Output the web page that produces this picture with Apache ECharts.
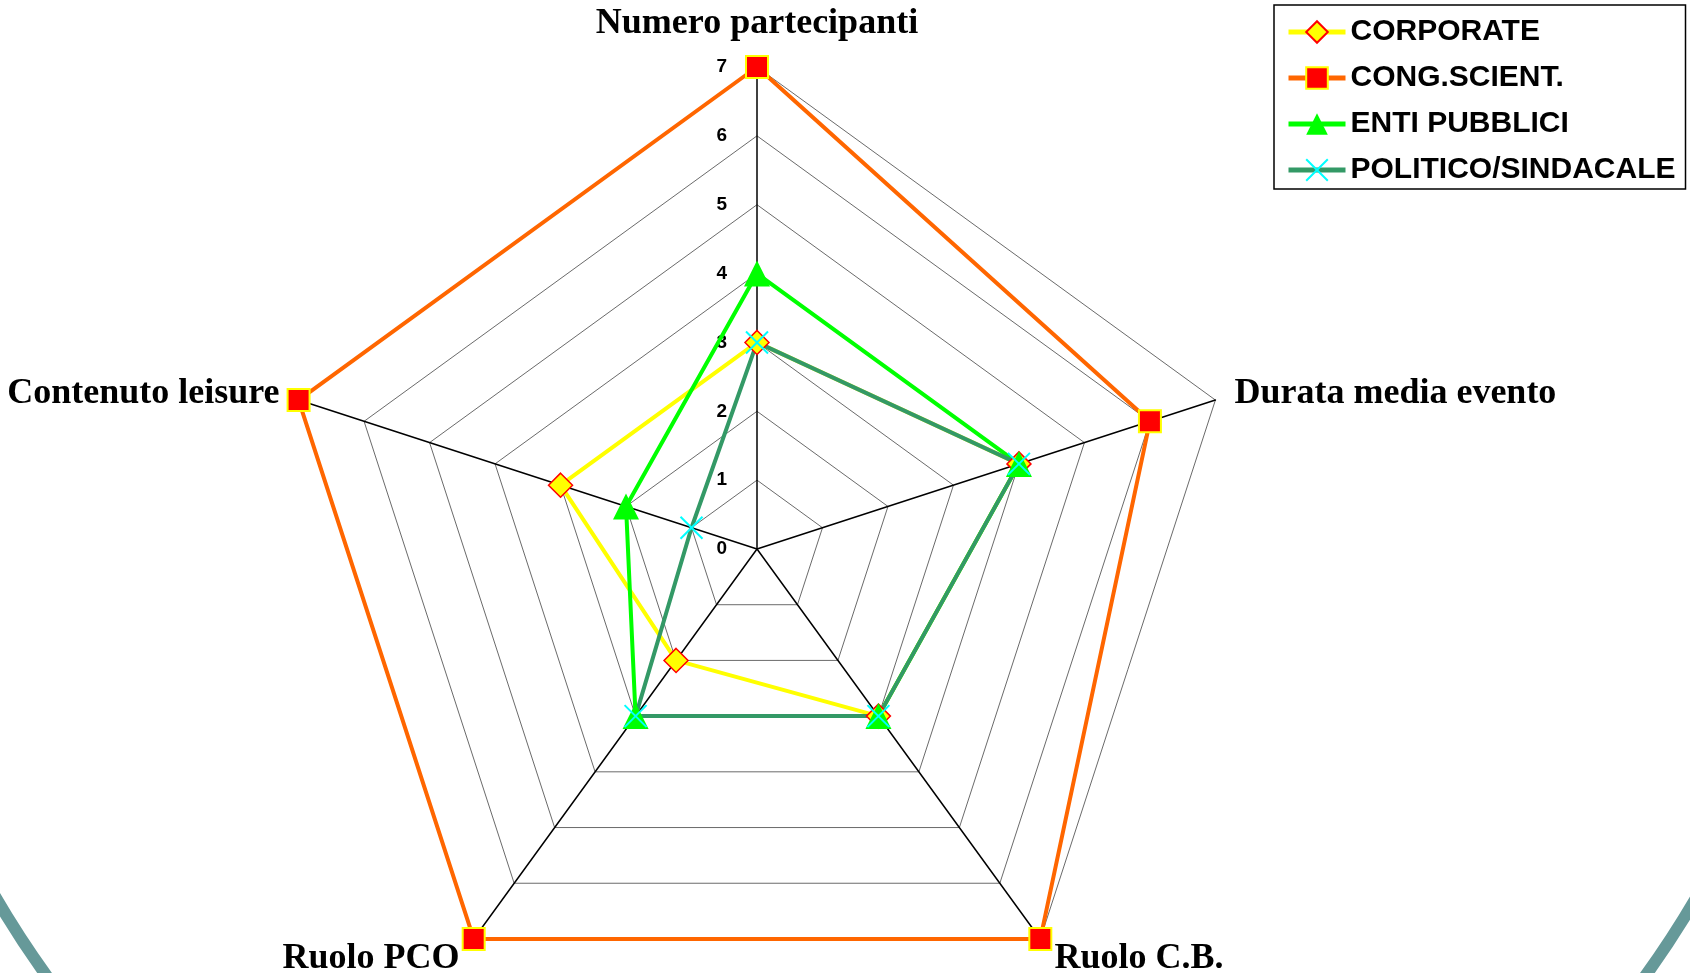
<!DOCTYPE html>
<html>
<head>
<meta charset="utf-8">
<script src="https://cdn.jsdelivr.net/npm/echarts@6/dist/echarts.min.js"></script>
<style>
html, body { margin: 0; padding: 0; background: #fff; }
#main { width: 1690px; height: 973px; }
</style>
</head>
<body>
<div id="main"></div>
<script>
// axes, counter-clockwise from the top
var indicatorNames = ['Numero partecipanti', 'Contenuto leisure', 'Ruolo PCO', 'Ruolo C.B.', 'Durata media evento'];
var axisMax = 7;
var seriesNames = ['CORPORATE', 'CONG.SCIENT.', 'ENTI PUBBLICI', 'POLITICO/SINDACALE'];
var corporate = [3, 3, 2, 3, 4];
var congScient = [7, 7, 7, 7, 6];
var entiPubblici = [4, 2, 3, 3, 4];
var politico = [3, 1, 3, 3, 4];
var seriesValues = [corporate, congScient, entiPubblici, politico];

// look of each group (line colour, marker)
var looks = [
    { line: '#ffff00', symbol: 'diamond', size: 24, fill: '#ffff00', border: '#ff0000', bw: 1.5 },
    { line: '#ff6600', symbol: 'rect', size: 22, fill: '#ff0000', border: '#ffff00', bw: 2 },
    { line: '#00ff00', symbol: 'triangle', size: 26, fill: '#00ff00', border: '#00ff00', bw: 0 },
    { line: '#339966', symbol: 'path://M0,0L10,10M10,0L0,10', size: 22, fill: 'rgba(0,0,0,0)', border: '#00ffff', bw: 2 }
];

// name placement tweaks per axis (top, left, bottom-left, bottom-right, right)
var nameGaps = [25, 20, 24, 24, 20];
var namePadTop = [0, 18, 6, 6, 18];

var chart = echarts.init(document.getElementById('main'));

var indicator = indicatorNames.map(function (n, i) {
    var ind = {
        name: n,
        min: 0,
        max: axisMax,
        nameGap: nameGaps[i],
        nameTextStyle: { padding: [namePadTop[i], 0, 0, 0] }
    };
    if (i === 0) {
        // only the top axis carries the scale
        ind.axisLabel = {
            show: true,
            color: '#000',
            fontSize: 19,
            fontWeight: 'bold',
            fontFamily: 'Liberation Sans',
            margin: 30
        };
    }
    return ind;
});

var series = [];
// empty line series: only there so the legend shows line + marker
seriesNames.forEach(function (n, i) {
    var lk = looks[i];
    series.push({
        type: 'line',
        name: n,
        data: [],
        symbol: lk.symbol,
        symbolSize: lk.size,
        lineStyle: { color: lk.line, width: 4 },
        itemStyle: { color: lk.fill, borderColor: lk.border, borderWidth: lk.bw }
    });
});
seriesNames.forEach(function (n, i) {
    var lk = looks[i];
    series.push({
        type: 'radar',
        name: n,
        symbol: lk.symbol,
        symbolSize: lk.size,
        lineStyle: { color: lk.line, width: 4 },
        itemStyle: { color: lk.fill, borderColor: lk.border, borderWidth: lk.bw },
        data: [{ name: n, value: seriesValues[i] }]
    });
});

var option = {
    backgroundColor: '#fff',
    animation: false,
    grid: { show: false, left: 0, top: 0, width: 10, height: 10 },
    xAxis: { show: false, type: 'category' },
    yAxis: { show: false, type: 'value' },
    graphic: [{
        type: 'circle',
        silent: true,
        z: -10,
        shape: { cx: 846, cy: 400, r: 985 },
        style: { fill: 'none', stroke: '#669999', lineWidth: 12 }
    }],
    legend: {
        orient: 'vertical',
        left: 1274,
        top: 5,
        padding: [12, 10, 4, 12],
        backgroundColor: '#fff',
        borderColor: '#000',
        borderWidth: 1.5,
        borderRadius: 0,
        itemWidth: 57,
        itemHeight: 27,
        itemGap: 16,
        data: seriesNames,
        lineStyle: { width: 5 },
        textStyle: {
            color: '#000',
            fontSize: 30,
            lineHeight: 30,
            fontWeight: 'bold',
            fontFamily: 'Liberation Sans'
        }
    },
    radar: {
        center: [757, 549],
        radius: 482,
        startAngle: 90,
        shape: 'polygon',
        splitNumber: 7,
        nameGap: 20,
        indicator: indicator,
        axisName: {
            color: '#000',
            fontSize: 36,
            fontWeight: 'bold',
            fontFamily: 'Liberation Serif'
        },
        axisLine: { lineStyle: { color: '#000', width: 1.5 } },
        axisTick: { show: false },
        axisLabel: { show: false },
        splitLine: { lineStyle: { color: '#444', width: 0.8 } },
        splitArea: { show: false }
    },
    series: series
};

chart.setOption(option);
</script>
</body>
</html>
